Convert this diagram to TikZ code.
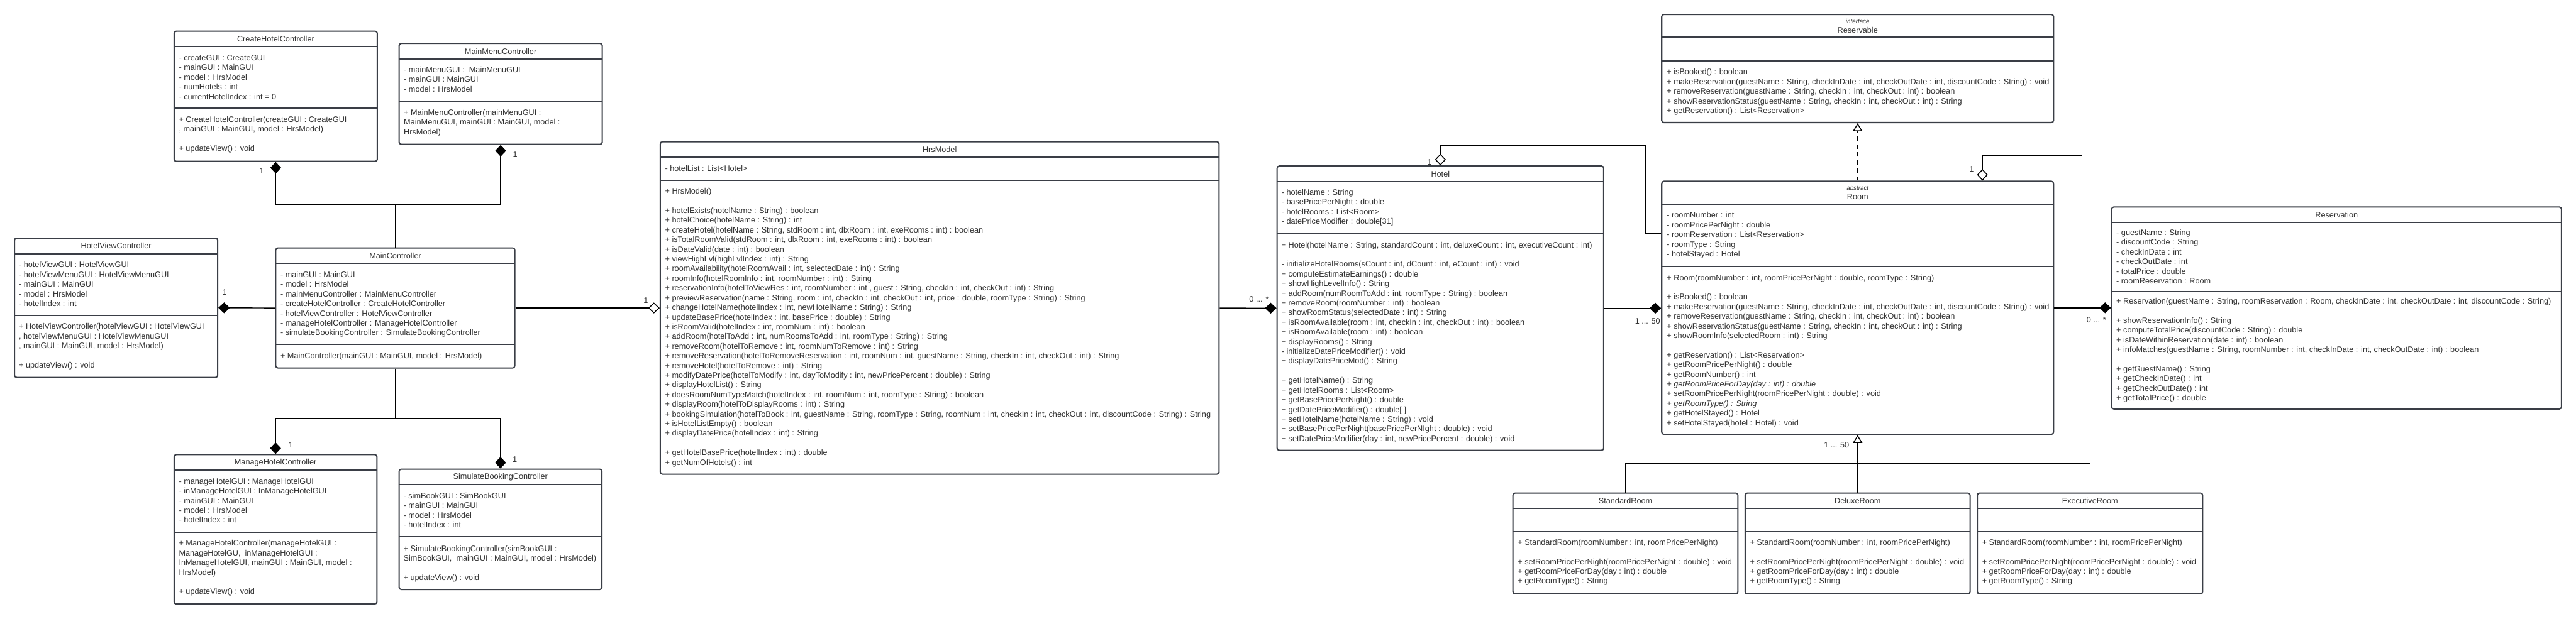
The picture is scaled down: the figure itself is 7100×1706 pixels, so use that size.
\documentclass[tikz,border=0pt]{standalone}
\usepackage{fontspec}
\setmainfont{Liberation Sans}
\usetikzlibrary{arrows.meta, fit, calc}
\definecolor{boxline}{RGB}{58,62,70}
\definecolor{membertext}{RGB}{50,50,50}
\tikzset{
    classbox/.style={draw=boxline, line width=3.5pt, rounded corners=6pt, inner sep=0pt, fill=white},
    divider/.style={draw=boxline, line width=3.5pt},
    classname/.style={font=\fontsize{22}{26.7}\selectfont, text=membertext, align=center, inner sep=0pt},
    members/.style={font=\fontsize{22}{26.7}\selectfont, text=membertext, align=left, anchor=north west, inner sep=0pt},
    mult/.style={font=\fontsize{22}{26.7}\selectfont, text=membertext, inner sep=0pt},
    assoc/.style={draw=black, line width=2.5pt},
    compo/.style={assoc, -{Diamond[length=32pt, width=30pt]}},
    aggr/.style={assoc, -{Diamond[open, fill=white, length=32pt, width=30pt]}},
    inherit/.style={assoc, -{Triangle[open, fill=white, length=22pt, width=26pt]}},
    realize/.style={assoc, dash pattern=on 12pt off 10pt, -{Triangle[open, fill=white, length=22pt, width=26pt]}}
}
\newcommand{\stereo}[1]{{\fontsize{17}{20}\selectfont\itshape #1}}
\newcommand{\umlclass}[8]{
    \node[classbox, fit={(#2,#3) (#4,#5)}] (#1) {};
    \draw[divider] (#2,#6) -- (#4,#6);
    \draw[divider] (#2,#7) -- (#4,#7);
    \node[classname] (#1-name) at ({(#2+#4)/2},{(#3+#6)/2}) {#8};
}
\newcommand{\members}[4]{
    \node[members] (#1) at (#2,{#3-10.7}) {\strut #4};
}

\begin{document}
\begin{tikzpicture}[x=1pt, y=-1pt]
    \fill[white] (0,0) rectangle (7100,1706);
    \useasboundingbox (0,0) rectangle (7100,1706);

    % Controllers
    \umlclass{chc}{480}{86}{1040}{445}{129}{299}{CreateHotelController}
    \members{chc-attr}{493}{159}{- createGUI : CreateGUI\\ - mainGUI : MainGUI\\ - model : HrsModel\\ - numHotels : int\\ - currentHotelIndex : int = 0}
    \members{chc-ops}{493}{329}{+ CreateHotelController(createGUI : CreateGUI\\ , mainGUI : MainGUI, model : HrsModel)\\[26.7pt] + updateView() : void}

    \umlclass{mmc}{1100}{120}{1660}{398}{163}{280}{MainMenuController}
    \members{mmc-attr}{1113}{192}{- mainMenuGUI : \ MainMenuGUI\\ - mainGUI : MainGUI\\ - model : HrsModel}
    \members{mmc-ops}{1113}{310}{+ MainMenuController(mainMenuGUI :\\ MainMenuGUI, mainGUI : MainGUI, model :\\ HrsModel)}

    \umlclass{hvc}{40}{657}{600}{1041}{700}{871}{HotelViewController}
    \members{hvc-attr}{52}{730}{- hotelViewGUI : HotelViewGUI\\ - hotelViewMenuGUI : HotelViewMenuGUI\\ - mainGUI : MainGUI\\ - model : HrsModel\\ - hotelIndex : int}
    \members{hvc-ops}{52}{900}{+ HotelViewController(hotelViewGUI : HotelViewGUI\\ , hotelViewMenuGUI : HotelViewMenuGUI\\ , mainGUI : MainGUI, model : HrsModel)\\[26.7pt] + updateView() : void}

    \umlclass{mc}{760}{684}{1419}{1015}{727}{950}{MainController}
    \members{mc-attr}{773}{757}{- mainGUI : MainGUI\\ - model : HrsModel\\ - mainMenuController : MainMenuController\\ - createHotelController : CreateHotelController\\ - hotelViewController : HotelViewController\\ - manageHotelController : ManageHotelController\\ - simulateBookingController : SimulateBookingController}
    \members{mc-ops}{773}{980}{+ MainController(mainGUI : MainGUI, model : HrsModel)}

    \umlclass{mhc}{480}{1254}{1039}{1666}{1297}{1468}{ManageHotelController}
    \members{mhc-attr}{493}{1327}{- manageHotelGUI : ManageHotelGUI\\ - inManageHotelGUI : InManageHotelGUI\\ - mainGUI : MainGUI\\ - model : HrsModel\\ - hotelIndex : int}
    \members{mhc-ops}{493}{1498}{+ ManageHotelController(manageHotelGUI :\\ ManageHotelGU, \ inManageHotelGUI :\\ InManageHotelGUI, mainGUI : MainGUI, model :\\ HrsModel)\\[26.7pt] + updateView() : void}

    \umlclass{sbc}{1100}{1294}{1659}{1626}{1337}{1481}{SimulateBookingController}
    \members{sbc-attr}{1112}{1367}{- simBookGUI : SimBookGUI\\ - mainGUI : MainGUI\\ - model : HrsModel\\ - hotelIndex : int}
    \members{sbc-ops}{1112}{1512}{+ SimulateBookingController(simBookGUI :\\ SimBookGUI, \ mainGUI : MainGUI, model : HrsModel)\\[26.7pt] + updateView() : void}

    % Model
    \umlclass{hrs}{1820}{391}{3360}{1308}{433}{498}{HrsModel}
    \members{hrs-attr}{1833}{464}{- hotelList : List<Hotel>}
    \members{hrs-ops}{1833}{527}{+ HrsModel()\\[26.7pt]
        + hotelExists(hotelName : String) : boolean\\
        + hotelChoice(hotelName : String) : int\\
        + createHotel(hotelName : String, stdRoom : int, dlxRoom : int, exeRooms : int) : boolean\\
        + isTotalRoomValid(stdRoom : int, dlxRoom : int, exeRooms : int) : boolean\\
        + isDateValid(date : int) : boolean\\
        + viewHighLvl(highLvlIndex : int) : String\\
        + roomAvailability(hotelRoomAvail : int, selectedDate : int) : String\\
        + roomInfo(hotelRoomInfo : int, roomNumber : int) : String\\
        + reservationInfo(hotelToViewRes : int, roomNumber : int , guest : String, checkIn : int, checkOut : int) : String\\
        + previewReservation(name : String, room : int, checkIn : int, checkOut : int, price : double, roomType : String) : String\\
        + changeHotelName(hotelIndex : int, newHotelName : String) : String\\
        + updateBasePrice(hotelIndex : int, basePrice : double) : String\\
        + isRoomValid(hotelIndex : int, roomNum : int) : boolean\\
        + addRoom(hotelToAdd : int, numRoomsToAdd : int, roomType : String) : String\\
        + removeRoom(hotelToRemove : int, roomNumToRemove : int) : String\\
        + removeReservation(hotelToRemoveReservation : int, roomNum : int, guestName : String, checkIn : int, checkOut : int) : String\\
        + removeHotel(hotelToRemove : int) : String\\
        + modifyDatePrice(hotelToModify : int, dayToModify : int, newPricePercent : double) : String\\
        + displayHotelList() : String\\
        + doesRoomNumTypeMatch(hotelIndex : int, roomNum : int, roomType : String) : boolean\\
        + displayRoom(hotelToDisplayRooms : int) : String\\
        + bookingSimulation(hotelToBook : int, guestName : String, roomType : String, roomNum : int, checkIn : int, checkOut : int, discountCode : String) : String\\
        + isHotelListEmpty() : boolean\\
        + displayDatePrice(hotelIndex : int) : String\\[26.7pt]
        + getHotelBasePrice(hotelIndex : int) : double\\
        + getNumOfHotels() : int}

    \umlclass{hotel}{3520}{458}{4420}{1242}{501}{645}{Hotel}
    \members{hotel-attr}{3532}{530}{- hotelName : String\\ - basePricePerNight : double\\ - hotelRooms : List<Room>\\ - datePriceModifier : double[31]}
    \members{hotel-ops}{3532}{675}{+ Hotel(hotelName : String, standardCount : int, deluxeCount : int, executiveCount : int)\\[26.7pt]
        - initializeHotelRooms(sCount : int, dCount : int, eCount : int) : void\\
        + computeEstimateEarnings() : double\\
        + showHighLevelInfo() : String\\
        + addRoom(numRoomToAdd : int, roomType : String) : boolean\\
        + removeRoom(roomNumber : int) : boolean\\
        + showRoomStatus(selectedDate : int) : String\\
        + isRoomAvailable(room : int, checkIn : int, checkOut : int) : boolean\\
        + isRoomAvailable(room : int) : boolean\\
        + displayRooms() : String\\
        - initializeDatePriceModifier() : void\\
        + displayDatePriceMod() : String\\[26.7pt]
        + getHotelName() : String\\
        + getHotelRooms : List<Room>\\
        + getBasePricePerNight() : double\\
        + getDatePriceModifier() : double{[ ]}\\
        + setHotelName(hotelName : String) : void\\
        + setBasePricePerNight(basePricePerNIght : double) : void\\
        + setDatePriceModifier(day : int, newPricePercent : double) : void}

    \umlclass{reservable}{4580}{40}{5660}{338}{103}{168}{\stereo{interface}\\ Reservable}
    \members{reservable-ops}{4594}{198}{+ isBooked() : boolean\\
        + makeReservation(guestName : String, checkInDate : int, checkOutDate : int, discountCode : String) : void\\
        + removeReservation(guestName : String, checkIn : int, checkOut : int) : boolean\\
        + showReservationStatus(guestName : String, checkIn : int, checkOut : int) : String\\
        + getReservation() : List<Reservation>}

    \umlclass{room}{4580}{500}{5660}{1198}{563}{735}{\stereo{abstract}\\ Room}
    \members{room-attr}{4594}{593}{- roomNumber : int\\ - roomPricePerNight : double\\ - roomReservation : List<Reservation>\\ - roomType : String\\ - hotelStayed : Hotel}
    \members{room-ops}{4594}{765}{+ Room(roomNumber : int, roomPricePerNight : double, roomType : String)\\[26.7pt]
        + isBooked() : boolean\\
        + makeReservation(guestName : String, checkInDate : int, checkOutDate : int, discountCode : String) : void\\
        + removeReservation(guestName : String, checkIn : int, checkOut : int) : boolean\\
        + showReservationStatus(guestName : String, checkIn : int, checkOut : int) : String\\
        + showRoomInfo(selectedRoom : int) : String\\[26.7pt]
        + getReservation() : List<Reservation>\\
        + getRoomPricePerNight() : double\\
        + getRoomNumber() : int\\
        \textit{+ getRoomPriceForDay(day : int) : double}\\
        + setRoomPricePerNight(roomPricePerNight : double) : void\\
        \textit{+ getRoomType() : String}\\
        + getHotelStayed() : Hotel\\
        + setHotelStayed(hotel : Hotel) : void}

    \umlclass{reservation}{5820}{571}{7060}{1128}{614}{804}{Reservation}
    \members{reservation-attr}{5833}{641}{- guestName : String\\ - discountCode : String\\ - checkInDate : int\\ - checkOutDate : int\\ - totalPrice : double\\ - roomReservation : Room}
    \members{reservation-ops}{5833}{830}{+ Reservation(guestName : String, roomReservation : Room, checkInDate : int, checkOutDate : int, discountCode : String)\\[26.7pt]
        + showReservationInfo() : String\\
        + computeTotalPrice(discountCode : String) : double\\
        + isDateWithinReservation(date : int) : boolean\\
        + infoMatches(guestName : String, roomNumber : int, checkInDate : int, checkOutDate : int) : boolean\\[26.7pt]
        + getGuestName() : String\\
        + getCheckInDate() : int\\
        + getCheckOutDate() : int\\
        + getTotalPrice() : double}

    % Room types
    \umlclass{sr}{4170}{1360}{4790}{1638}{1403}{1467}{StandardRoom}
    \members{sr-ops}{4183}{1495}{+ StandardRoom(roomNumber : int, roomPricePerNight)\\[26.7pt] + setRoomPricePerNight(roomPricePerNight : double) : void\\ + getRoomPriceForDay(day : int) : double\\ + getRoomType() : String}
    \umlclass{dr}{4810}{1360}{5430}{1638}{1403}{1467}{DeluxeRoom}
    \members{dr-ops}{4823}{1495}{+ StandardRoom(roomNumber : int, roomPricePerNight)\\[26.7pt] + setRoomPricePerNight(roomPricePerNight : double) : void\\ + getRoomPriceForDay(day : int) : double\\ + getRoomType() : String}
    \umlclass{er}{5450}{1360}{6071}{1638}{1403}{1467}{ExecutiveRoom}
    \members{er-ops}{5463}{1495}{+ StandardRoom(roomNumber : int, roomPricePerNight)\\[26.7pt] + setRoomPricePerNight(roomPricePerNight : double) : void\\ + getRoomPriceForDay(day : int) : double\\ + getRoomType() : String}

    % Controller links
    \draw[compo] (mc.north) -- ++(0,-118) -| (chc.south);
    \draw[compo] (mc.north) -- ++(0,-118) -| (mmc.south);
    \draw[compo] (mc.south) -- ++(0,138) -| (mhc.north);
    \draw[compo] (mc.south) -- ++(0,138) -| (sbc.north);
    \draw[compo] (mc.west) -- (hvc.east);
    \draw[aggr] (mc.east) -- (hrs.west);
    \node[mult] (chc-m) at (721,472) {1};
    \node[mult] (mmc-m) at (1420,426) {1};
    \node[mult] (mhc-m) at (801,1227) {1};
    \node[mult] (sbc-m) at (1419,1267) {1};
    \node[mult] (hvc-m) at (619,807) {1};
    \node[mult] (hrs-m) at (1780,829) {1};

    % Model links
    \draw[compo] (hrs.east) -- (hotel.west);
    \draw[compo] (hotel.east) -- (room.west |- hotel.east);
    \draw[compo] (room.east) -- (reservation.west |- room.east);
    \draw[aggr] (room.west |- 0,643) -- ++(-42,0) |- ($(hotel.north)+(0,-55)$) -- (hotel.north);
    \draw[aggr] (reservation.west |- 0,712) -- ++(-80,0) |- ($(room.north -| 5464,0)+(0,-70)$) -- (room.north -| 5464,0);
    \draw[realize] (room.north) -- (reservable.south);
    \draw[inherit] (dr.north) -- (room.south);
    \draw[assoc] (sr.north) |- (dr.north |- 0,1279) -| (er.north);
    \node[mult] (hotel-m) at (3470,825) {0 ... *};
    \node[mult] (hotel-top-m) at (3940,447) {1};
    \node[mult] (room-m) at (4541,886) {1 ... 50};
    \node[mult] (room-top-m) at (5434,466) {1};
    \node[mult] (reservation-m) at (5778,883) {0 ... *};
    \node[mult] (sub-m) at (5062,1227) {1 ... 50};
\end{tikzpicture}
\end{document}
